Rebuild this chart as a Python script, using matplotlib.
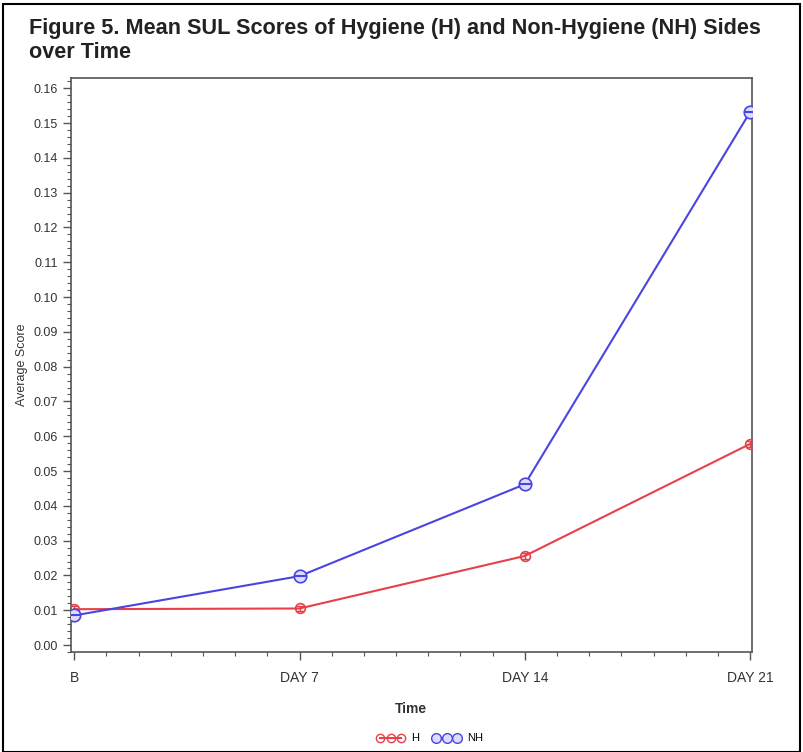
import numpy as np
import matplotlib.pyplot as plt
from matplotlib.ticker import MultipleLocator, FixedLocator
from matplotlib.lines import Line2D
from matplotlib.patches import Rectangle

# dados
dias = [0, 7, 14, 21]
rotulos_x = ['B', 'DAY 7', 'DAY 14', 'DAY 21']
media_h = [0.0103, 0.0105, 0.0256, 0.0578]
media_nh = [0.0085, 0.0198, 0.0462, 0.1532]
ticks_y = [0.00, 0.01, 0.02, 0.03, 0.04, 0.05, 0.06, 0.07, 0.08,
           0.09, 0.10, 0.11, 0.12, 0.13, 0.14, 0.15, 0.16]

cor_h = '#e8404a'
cor_nh = '#4a45e0'

plt.rcParams['font.family'] = ['Liberation Sans', 'DejaVu Sans']

fig = plt.figure(figsize=(8.04, 7.52), dpi=100)
ax = fig.add_axes([0.0883, 0.133, 0.8467, 0.763])

# H: círculo aberto com pequena barra de erro
ax.plot(dias, media_h, color=cor_h, linewidth=1.5, marker='o', markersize=7,
        markerfacecolor='none', markeredgecolor=cor_h, markeredgewidth=1.2, zorder=3)
ax.errorbar(dias, media_h, yerr=0.0008, fmt='none', ecolor=cor_h, elinewidth=1.0,
            capsize=3, zorder=3)

# NH: círculo com traço
ax.plot(dias, media_nh, color=cor_nh, linewidth=1.5, marker='o', markersize=9,
        markerfacecolor='#dcdcff', markeredgecolor=cor_nh, markeredgewidth=1.2, zorder=4)
ax.plot(dias, media_nh, linestyle='none', marker='_', markersize=9,
        markeredgecolor=cor_nh, markeredgewidth=1.5, zorder=5)

ax.set_xlim(-0.1, 21.05)
ax.set_ylim(-0.002, 0.1629)
ax.xaxis.set_major_locator(FixedLocator(dias))
ax.set_xticklabels(rotulos_x, fontsize=10, color='#333333')
ax.xaxis.set_minor_locator(MultipleLocator(1))
ax.yaxis.set_major_locator(FixedLocator(ticks_y))
ax.set_yticklabels([f'{v:.2f}' for v in ticks_y], fontsize=9, color='#333333')
ax.yaxis.set_minor_locator(MultipleLocator(0.002))

ax.tick_params(axis='both', which='major', direction='out', length=6, width=1.0, color='#555555')
ax.tick_params(axis='both', which='minor', direction='out', length=3, width=0.8, color='#555555')
ax.tick_params(axis='x', pad=8)
for s in ax.spines.values():
    s.set_color('#555555')
    s.set_linewidth(1.2)

ax.set_ylabel('Average Score', fontsize=9, color='#333333', labelpad=4)
ax.set_xlabel('Time', fontsize=10, fontweight='bold', color='#333333', labelpad=12)

# título em duas linhas, alinhado à esquerda
fig.text(0.036, 0.976, 'Figure 5. Mean SUL Scores of Hygiene (H) and Non-Hygiene (NH) Sides\nover Time',
         fontsize=15.6, fontweight='bold', ha='left', va='top', linespacing=1.2, color='#222222')

# legenda na parte de baixo
leg_h = Line2D([0], [0], color=cor_h, linewidth=1.5, marker='o', markersize=6,
               markerfacecolor='none', markeredgecolor=cor_h)
leg_nh = Line2D([0], [0], color=cor_nh, linewidth=1.5, marker='o', markersize=7,
                markerfacecolor='#dcdcff', markeredgecolor=cor_nh)
fig.legend([leg_h, leg_nh], ['H', 'NH'], loc='center', bbox_to_anchor=(0.535, 0.018),
           ncol=2, frameon=False, numpoints=3, fontsize=8, handlelength=2.5,
           columnspacing=1.2, handletextpad=0.6)

# moldura em volta da figura
fig.patches.append(Rectangle((0.004, 0.0), 0.991, 0.995, transform=fig.transFigure,
                             fill=False, edgecolor='black', linewidth=1.5))

plt.savefig('out.png', dpi=100)
